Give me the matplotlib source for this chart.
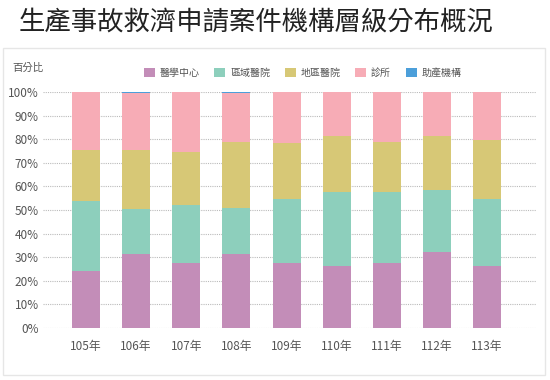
import numpy as np
import matplotlib
matplotlib.use("Agg")
import matplotlib.pyplot as plt
from matplotlib.patches import Rectangle

plt.rcParams['font.family'] = ['Noto Sans CJK TC', 'DejaVu Sans']

years = ["105年", "106年", "107年", "108年", "109年", "110年", "111年", "112年", "113年"]
series = ["醫學中心", "區域醫院", "地區醫院", "診所", "助產機構"]
colors = ["#C38DB8", "#8DCFBC", "#D7C876", "#F7ACB6", "#4C9FDA"]

# percentages
med_center = [24.3, 31.5, 27.7, 31.5, 27.7, 26.3, 27.7, 32.3, 26.3]
regional = [29.6, 18.8, 24.3, 19.3, 26.8, 31.5, 29.8, 26.2, 28.2]
district = [21.5, 25.1, 22.7, 27.9, 23.8, 23.6, 21.2, 22.9, 25.2]
clinic = [24.6, 24.0, 25.3, 20.7, 21.7, 18.6, 21.3, 18.6, 20.3]
midwife = [0.0, 0.6, 0.0, 0.6, 0.0, 0.0, 0.0, 0.0, 0.0]

data = [med_center, regional, district, clinic, midwife]

fig = plt.figure(figsize=(5.5, 3.8), dpi=100)
fig.patch.set_facecolor("white")

# light panel border
fig.add_artist(Rectangle((0.006, 0.013), 0.984, 0.86, transform=fig.transFigure,
                         fill=False, edgecolor="#e6e6e6", linewidth=1))

fig.text(0.465, 0.943, "生產事故救濟申請案件機構層級分布概況", ha="center", va="center",
         fontsize=19, color="#222222", fontweight="light")

ax = fig.add_axes([0.078, 0.137, 0.897, 0.621])
x = np.arange(len(years))
bottom = np.zeros(len(years))
for name, vals, c in zip(series, data, colors):
    vals = np.array(vals)
    ax.bar(x, vals, width=0.56, bottom=bottom, color=c, label=name, zorder=2)
    bottom += vals

ax.set_xlim(-0.86, 8.98)
ax.set_ylim(0, 100)
ax.set_yticks(np.arange(0, 101, 10))
ax.set_yticklabels([f"{v}%" for v in range(0, 101, 10)])
ax.set_xticks(x)
ax.set_xticklabels(years)
ax.tick_params(axis="both", length=0, labelsize=8.5, colors="#555555")
ax.tick_params(axis="x", pad=9)
ax.tick_params(axis="y", pad=3)
ax.grid(axis="y", linestyle=(0, (1, 1)), color="#bbbbbb", linewidth=0.8, zorder=0)
for s in ax.spines.values():
    s.set_visible(False)

fig.text(0.022, 0.822, "百分比", fontsize=7.5, color="#555555", va="center")

fig.legend(loc="center", bbox_to_anchor=(0.55, 0.808), ncol=5, frameon=False,
           fontsize=7.2, handlelength=1.1, handleheight=1.1, handletextpad=0.5,
           columnspacing=1.45, labelcolor="#555555", borderpad=0)

fig.savefig("out.png", dpi=100)
